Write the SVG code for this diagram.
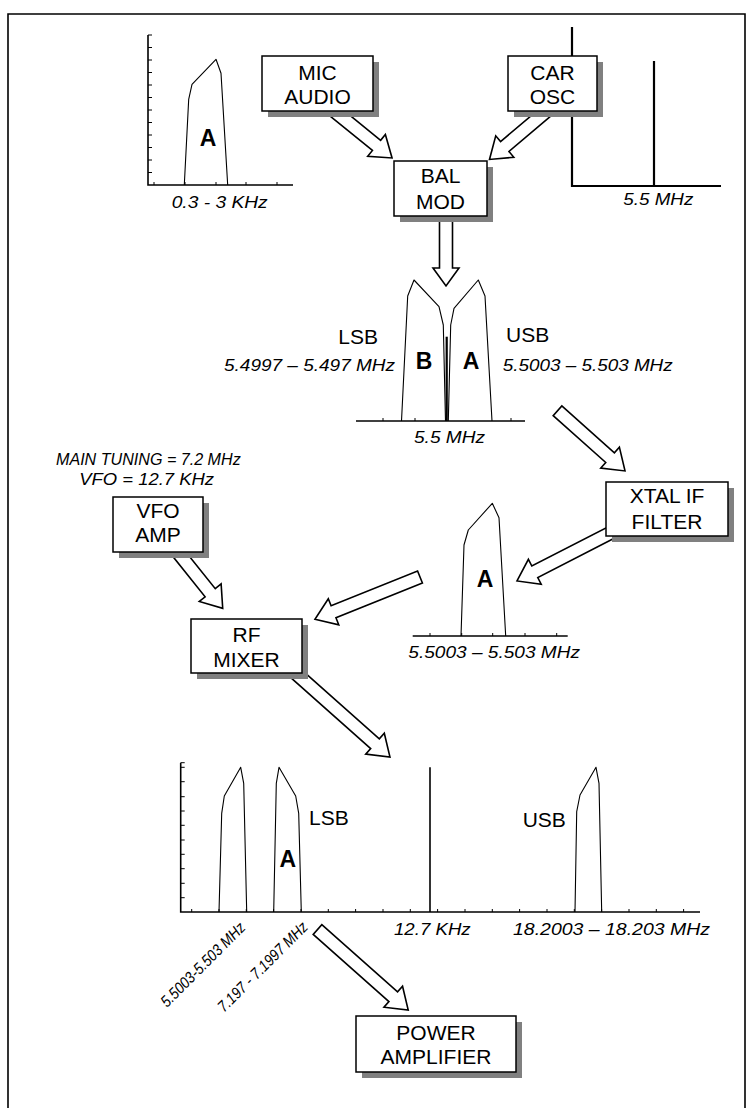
<svg xmlns="http://www.w3.org/2000/svg" width="748" height="1108" viewBox="0 0 748 1108">
<style>
.frame{fill:none;stroke:#000;stroke-width:1.6}
.ax{fill:none;stroke:#000;stroke-width:1.6}
.ax2{fill:none;stroke:#000;stroke-width:2.2}
.tk{fill:none;stroke:#000;stroke-width:1}
.sp{fill:none;stroke:#000;stroke-width:1.1;stroke-linejoin:round}
.arr{fill:#fff;stroke:#000;stroke-width:1.6;stroke-linejoin:miter}
.box{fill:#fff;stroke:#000;stroke-width:1.5}
.sh{fill:#808080}
.bx{font-family:"Liberation Sans",Arial,sans-serif;font-size:21px;text-anchor:middle;fill:#000}
.it{font-family:"Liberation Sans",Arial,sans-serif;font-size:17px;font-style:italic;fill:#000}
.rt{font-family:"Liberation Sans",Arial,sans-serif;font-size:16px;font-style:italic;fill:#000}
.sb{font-family:"Liberation Sans",Arial,sans-serif;font-size:21px;fill:#000}
.bd{font-family:"Liberation Sans",Arial,sans-serif;font-size:23px;font-weight:bold;fill:#000;text-anchor:middle}
</style>
<rect width="748" height="1108" fill="#fff"/>
<path class="frame" d="M8,1108 V14 H745 V1108"/>

<g id="spectrum-audio">
<path class="ax" d="M148,35 V185 H293"/>
<path class="tk" d="M148,35h4M148,47.5h4M148,60h4M148,72.5h4M148,85h4M148,97.5h4M148,110h4M148,122.5h4M148,135h4M148,147.5h4M148,160h4M148,172.5h4M154,185v-3M185,185v-3M216,185v-3M246,185v-3M277,185v-3"/>
<polyline class="sp" points="184.3,185 188.7,99.3 192,84.3 216,59.3 221,73.3 227.7,185"/>
<text class="bd" x="208" y="146">A</text>
<text class="it" x="171.7" y="208" textLength="96" lengthAdjust="spacingAndGlyphs">0.3 - 3 KHz</text>
</g>

<g id="spectrum-carrier">
<path class="ax2" d="M572,27 V186 H721"/>
<path class="ax2" d="M654,61 V186"/>
<text class="it" x="623.3" y="205" textLength="70" lengthAdjust="spacingAndGlyphs">5.5 MHz</text>
</g>

<g id="spectrum-dsb">
<path class="ax" d="M356,421 H525"/>
<path class="tk" d="M383,421v-3M415,421v-3M511,421v-3"/>
<polyline class="sp" points="401.5,421 407.7,296 414,280 439,306.7 443.3,325 445.5,421"/>
<polyline class="sp" points="448.3,421 450.7,325 454,308.3 478.3,280 485,296 492,421"/>
<path class="ax2" d="M446.7,336.7 V421"/>
<text class="sb" x="338.3" y="344.3">LSB</text>
<text class="sb" x="506" y="341.7">USB</text>
<text class="bd" x="424" y="369">B</text>
<text class="bd" x="471" y="369">A</text>
<text class="it" x="224" y="371" textLength="171" lengthAdjust="spacingAndGlyphs">5.4997 – 5.497 MHz</text>
<text class="it" x="502.7" y="371" textLength="170" lengthAdjust="spacingAndGlyphs">5.5003 – 5.503 MHz</text>
<text class="it" x="414" y="443.3" textLength="71" lengthAdjust="spacingAndGlyphs">5.5 MHz</text>
</g>

<g id="spectrum-filtered">
<path class="ax" d="M412.7,636 H567.7"/>
<path class="tk" d="M430,636v-3M461.7,636v-3M492.7,636v-3M525,636v-3M556.7,636v-3"/>
<polyline class="sp" points="461,636 464,545 468.3,530 492.3,503.3 499,517.7 505.7,636"/>
<text class="bd" x="485" y="587.3">A</text>
<text class="it" x="408.3" y="658" textLength="171.7" lengthAdjust="spacingAndGlyphs">5.5003 – 5.503 MHz</text>
</g>

<g id="tuning-notes">
<text class="it" x="56" y="465" textLength="184.7" lengthAdjust="spacingAndGlyphs" style="font-size:16.5px">MAIN TUNING = 7.2 MHz</text>
<text class="it" x="79.3" y="485" textLength="134.7" lengthAdjust="spacingAndGlyphs" style="font-size:16.5px">VFO = 12.7 KHz</text>
</g>

<g id="spectrum-output">
<path class="ax" d="M180.7,762.7 V912 H700"/>
<path class="tk" d="M180.7,762.7h4M180.7,767.3h4M180.7,781.7h4M180.7,796.7h4M180.7,811h4M180.7,825.3h4M180.7,840h4M180.7,854.3h4M180.7,868.7h4M180.7,883.3h4M180.7,897.7h4"/>
<path class="tk" d="M191.7,912v-3M219,912v-3M246.3,912v-3M273.6,912v-3M301,912v-3M328.3,912v-3M355.6,912v-3M383,912v-3M410.3,912v-3M437.6,912v-3M465,912v-3M492.3,912v-3M519.6,912v-3M547,912v-3M574.3,912v-3M601.6,912v-3M629,912v-3M656.3,912v-3M683.6,912v-3"/>
<polyline class="sp" points="219,912 221.7,813.3 224.3,796 240.7,767.3 243.7,783.3 246.7,912"/>
<polyline class="sp" points="273.7,912 276.3,783.3 279,767.3 295.7,796 298.7,813.3 301.3,912"/>
<polyline class="sp" points="575,912 576.7,811.7 580,795 596,767.3 599,783.3 601.7,912"/>
<path class="ax" d="M430,767.3 V912"/>
<text class="sb" x="309" y="825">LSB</text>
<text class="sb" x="522.7" y="826.7">USB</text>
<text class="bd" x="287.7" y="866.7">A</text>
<text class="it" x="394" y="935" textLength="76.7" lengthAdjust="spacingAndGlyphs">12.7 KHz</text>
<text class="it" x="513" y="935" textLength="197" lengthAdjust="spacingAndGlyphs">18.2003 – 18.203 MHz</text>
<text class="rt" transform="translate(167,1008) rotate(-45)" textLength="112" lengthAdjust="spacingAndGlyphs">5.5003-5.503 MHz</text>
<text class="rt" transform="translate(224,1013) rotate(-45)" textLength="120" lengthAdjust="spacingAndGlyphs">7.197 - 7.1997 MHz</text>
</g>

<g id="connectors">
<path class="arr" transform="translate(333,110) rotate(39.1)" d="M0,-6.5 H56.1 V-14 L76.1,0 L56.1,14 V6.5 H0 Z"/>
<path class="arr" transform="translate(548,110) rotate(139.8)" d="M0,-6.5 H56.6 V-14 L76.6,0 L56.6,14 V6.5 H0 Z"/>
<path class="arr" transform="translate(446,214) rotate(90)" d="M0,-6.5 H54 V-13 L72,0 L54,13 V6.5 H0 Z"/>
<path class="arr" transform="translate(557.5,410.8) rotate(41.7)" d="M0,-6.5 H70.4 V-14 L90.4,0 L70.4,14 V6.5 H0 Z"/>
<path class="arr" transform="translate(620,528) rotate(152.8)" d="M0,-6.5 H95.8 V-14 L115.8,0 L95.8,14 V6.5 H0 Z"/>
<path class="arr" transform="translate(420,577) rotate(158.1)" d="M0,-6.5 H93.2 V-14 L113.2,0 L93.2,14 V6.5 H0 Z"/>
<path class="arr" transform="translate(176,550) rotate(51.3)" d="M0,-6.5 H54.7 V-14 L74.7,0 L54.7,14 V6.5 H0 Z"/>
<path class="arr" transform="translate(292,670) rotate(41.6)" d="M0,-6.5 H111 V-14 L131,0 L111,14 V6.5 H0 Z"/>
<path class="arr" transform="translate(317.5,929.5) rotate(41.6)" d="M0,-6.5 H101.3 V-14 L121.3,0 L101.3,14 V6.5 H0 Z"/>
</g>

<g id="mic-audio">
<rect class="sh" x="268" y="62" width="111" height="55"/>
<rect class="box" x="262" y="56" width="111" height="55"/>
<text class="bx" x="317.5" y="79.5">MIC</text>
<text class="bx" x="317.5" y="104">AUDIO</text>
</g>
<g id="car-osc">
<rect class="sh" x="514" y="62" width="89" height="55"/>
<rect class="box" x="508" y="56" width="89" height="55"/>
<text class="bx" x="552.5" y="79.5">CAR</text>
<text class="bx" x="552.5" y="104">OSC</text>
</g>
<g id="bal-mod">
<rect class="sh" x="400" y="167" width="93" height="55"/>
<rect class="box" x="394" y="161" width="93" height="55"/>
<text class="bx" x="440.5" y="183.3">BAL</text>
<text class="bx" x="440.5" y="209">MOD</text>
</g>
<g id="xtal-if-filter">
<rect class="sh" x="612" y="488" width="122" height="54"/>
<rect class="box" x="606" y="482" width="122" height="54"/>
<text class="bx" x="667" y="503.3">XTAL IF</text>
<text class="bx" x="667" y="529.3">FILTER</text>
</g>
<g id="vfo-amp">
<rect class="sh" x="119" y="503" width="90" height="55"/>
<rect class="box" x="113" y="497" width="90" height="55"/>
<text class="bx" x="158" y="518.3">VFO</text>
<text class="bx" x="158" y="541.7">AMP</text>
</g>
<g id="rf-mixer">
<rect class="sh" x="197" y="625" width="111" height="54"/>
<rect class="box" x="191" y="619" width="111" height="54"/>
<text class="bx" x="246.5" y="641.7">RF</text>
<text class="bx" x="246.5" y="667.3">MIXER</text>
</g>
<g id="power-amplifier">
<rect class="sh" x="362" y="1022" width="160" height="56"/>
<rect class="box" x="356" y="1016" width="160" height="56"/>
<text class="bx" x="436" y="1039.5">POWER</text>
<text class="bx" x="436" y="1064">AMPLIFIER</text>
</g>
</svg>
